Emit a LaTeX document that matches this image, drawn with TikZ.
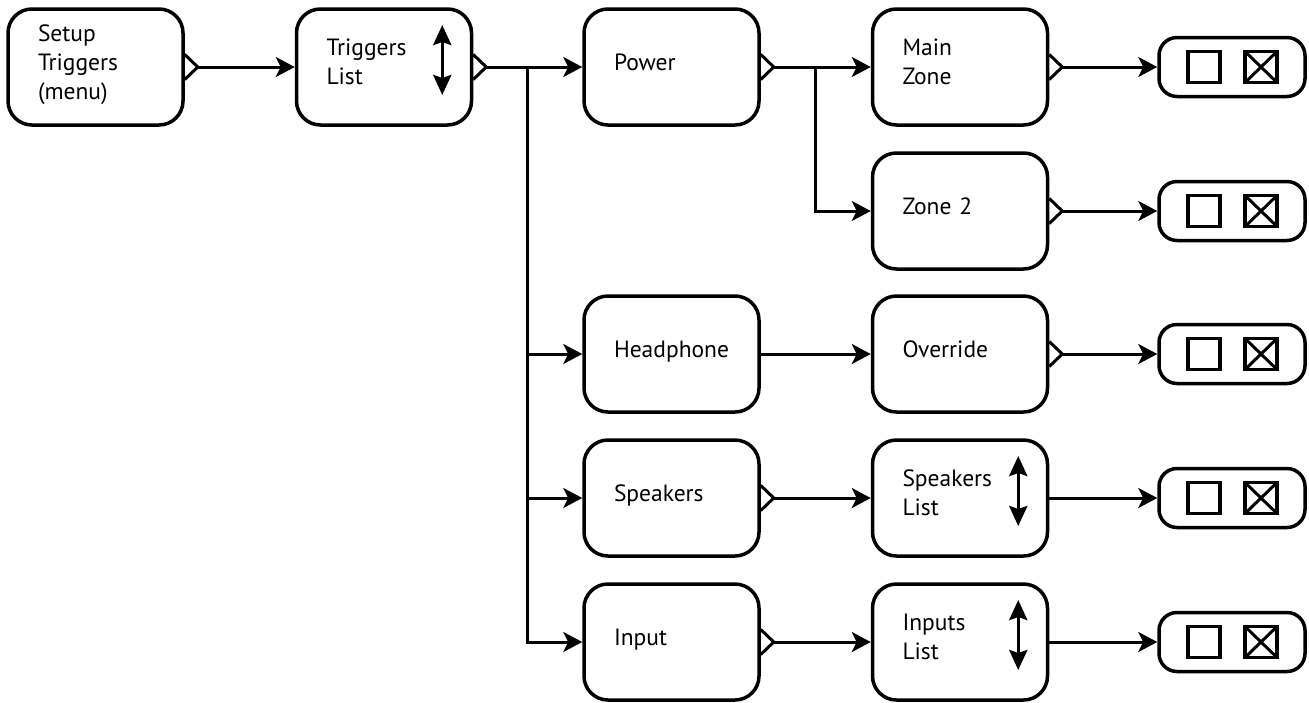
\documentclass[tikz,border=0pt]{standalone}
\usepackage{fontspec}
\setmainfont{PT Sans}
\usetikzlibrary{arrows.meta}
\begin{document}
\begin{tikzpicture}[x=1pt,y=-1pt,
 box/.style={draw, line width=3.5pt, rounded corners=24pt, minimum width=175pt, minimum height=116pt, text width=115pt, inner xsep=30pt, align=left, font=\fontsize{23.5}{29}\selectfont,
   execute at begin node={\rule{0pt}{18pt}}, execute at end node={\rule[-12pt]{0pt}{12pt}}},
 chk/.style={draw, line width=3.5pt, rounded corners=18pt, minimum width=146pt, minimum height=59pt},
 conn/.style={line width=3pt, -{Stealth[length=19pt,width=20pt,inset=5pt]}},
 notch/.style={line width=3pt, line join=miter},
 dbl/.style={line width=3.5pt, {Stealth[length=20pt,width=18pt,inset=3pt]}-{Stealth[length=20pt,width=18pt,inset=3pt]}},
 sq/.style={line width=3.5pt}
]
\useasboundingbox (0,0) rectangle (1309,702);
\node[box] (setup) at (95.5,67) {Setup\\Triggers\\(menu)};
\node[box] (tlist) at (384,67) {Triggers\\List};
\node[box] (power) at (671.5,67) {Power};
\node[box] (main) at (960,67) {Main\\Zone};
\node[box] (zone2) at (960,211) {Zone 2};
\node[box] (head) at (671.5,354) {Headphone};
\node[box] (over) at (960,354) {Override};
\node[box] (spk) at (671.5,498) {Speakers};
\node[box] (spkl) at (960,498) {Speakers\\List};
\node[box] (inp) at (671.5,642) {Input};
\node[box] (inpl) at (960,642) {Inputs\\List};
\node[chk] (c1) at (1232,67) {};
\node[chk] (c2) at (1232,211) {};
\node[chk] (c3) at (1232,354) {};
\node[chk] (c4) at (1232,498) {};
\node[chk] (c5) at (1232,642) {};
\foreach \n in {setup,tlist,power,main,zone2,over,spk,inp}{
  \coordinate (\n-t) at ([xshift=13pt]\n.east);
  \draw[notch] ([yshift=12.5pt]\n.east) -- (\n-t) -- ([yshift=-12.5pt]\n.east);
}
\foreach \n in {tlist,spkl,inpl}{
  \draw[dbl] ([xshift=-31pt,yshift=42pt]\n.east) -- ([xshift=-31pt,yshift=-28pt]\n.east);
}
\foreach \c in {c1,c2,c3,c4,c5}{
  \draw[sq] ([shift={(-44pt,-15.5pt)}]\c.center) rectangle ([shift={(-12pt,15.5pt)}]\c.center);
  \draw[sq] ([shift={(13pt,-15.5pt)}]\c.center) rectangle ([shift={(45pt,15.5pt)}]\c.center);
  \draw[line width=3pt] ([shift={(13pt,-15.5pt)}]\c.center) -- ([shift={(45pt,15.5pt)}]\c.center)
        ([shift={(13pt,15.5pt)}]\c.center) -- ([shift={(45pt,-15.5pt)}]\c.center);
}
\coordinate (b1) at (527,67);
\coordinate (b2) at (815,67);
\draw[conn] (setup-t) -- (tlist.west);
\draw[conn] (tlist-t) -- (power.west);
\draw[conn] (b1) |- (head.west);
\draw[conn] (b1) |- (spk.west);
\draw[conn] (b1) |- (inp.west);
\draw[conn] (power-t) -- (main.west);
\draw[conn] (b2) |- (zone2.west);
\draw[conn] (main-t) -- (c1.west);
\draw[conn] (zone2-t) -- (c2.west);
\draw[conn] (head.east) -- (over.west);
\draw[conn] (over-t) -- (c3.west);
\draw[conn] (spk-t) -- (spkl.west);
\draw[conn] (spkl.east) -- (c4.west);
\draw[conn] (inp-t) -- (inpl.west);
\draw[conn] (inpl.east) -- (c5.west);
\end{tikzpicture}
\end{document}
